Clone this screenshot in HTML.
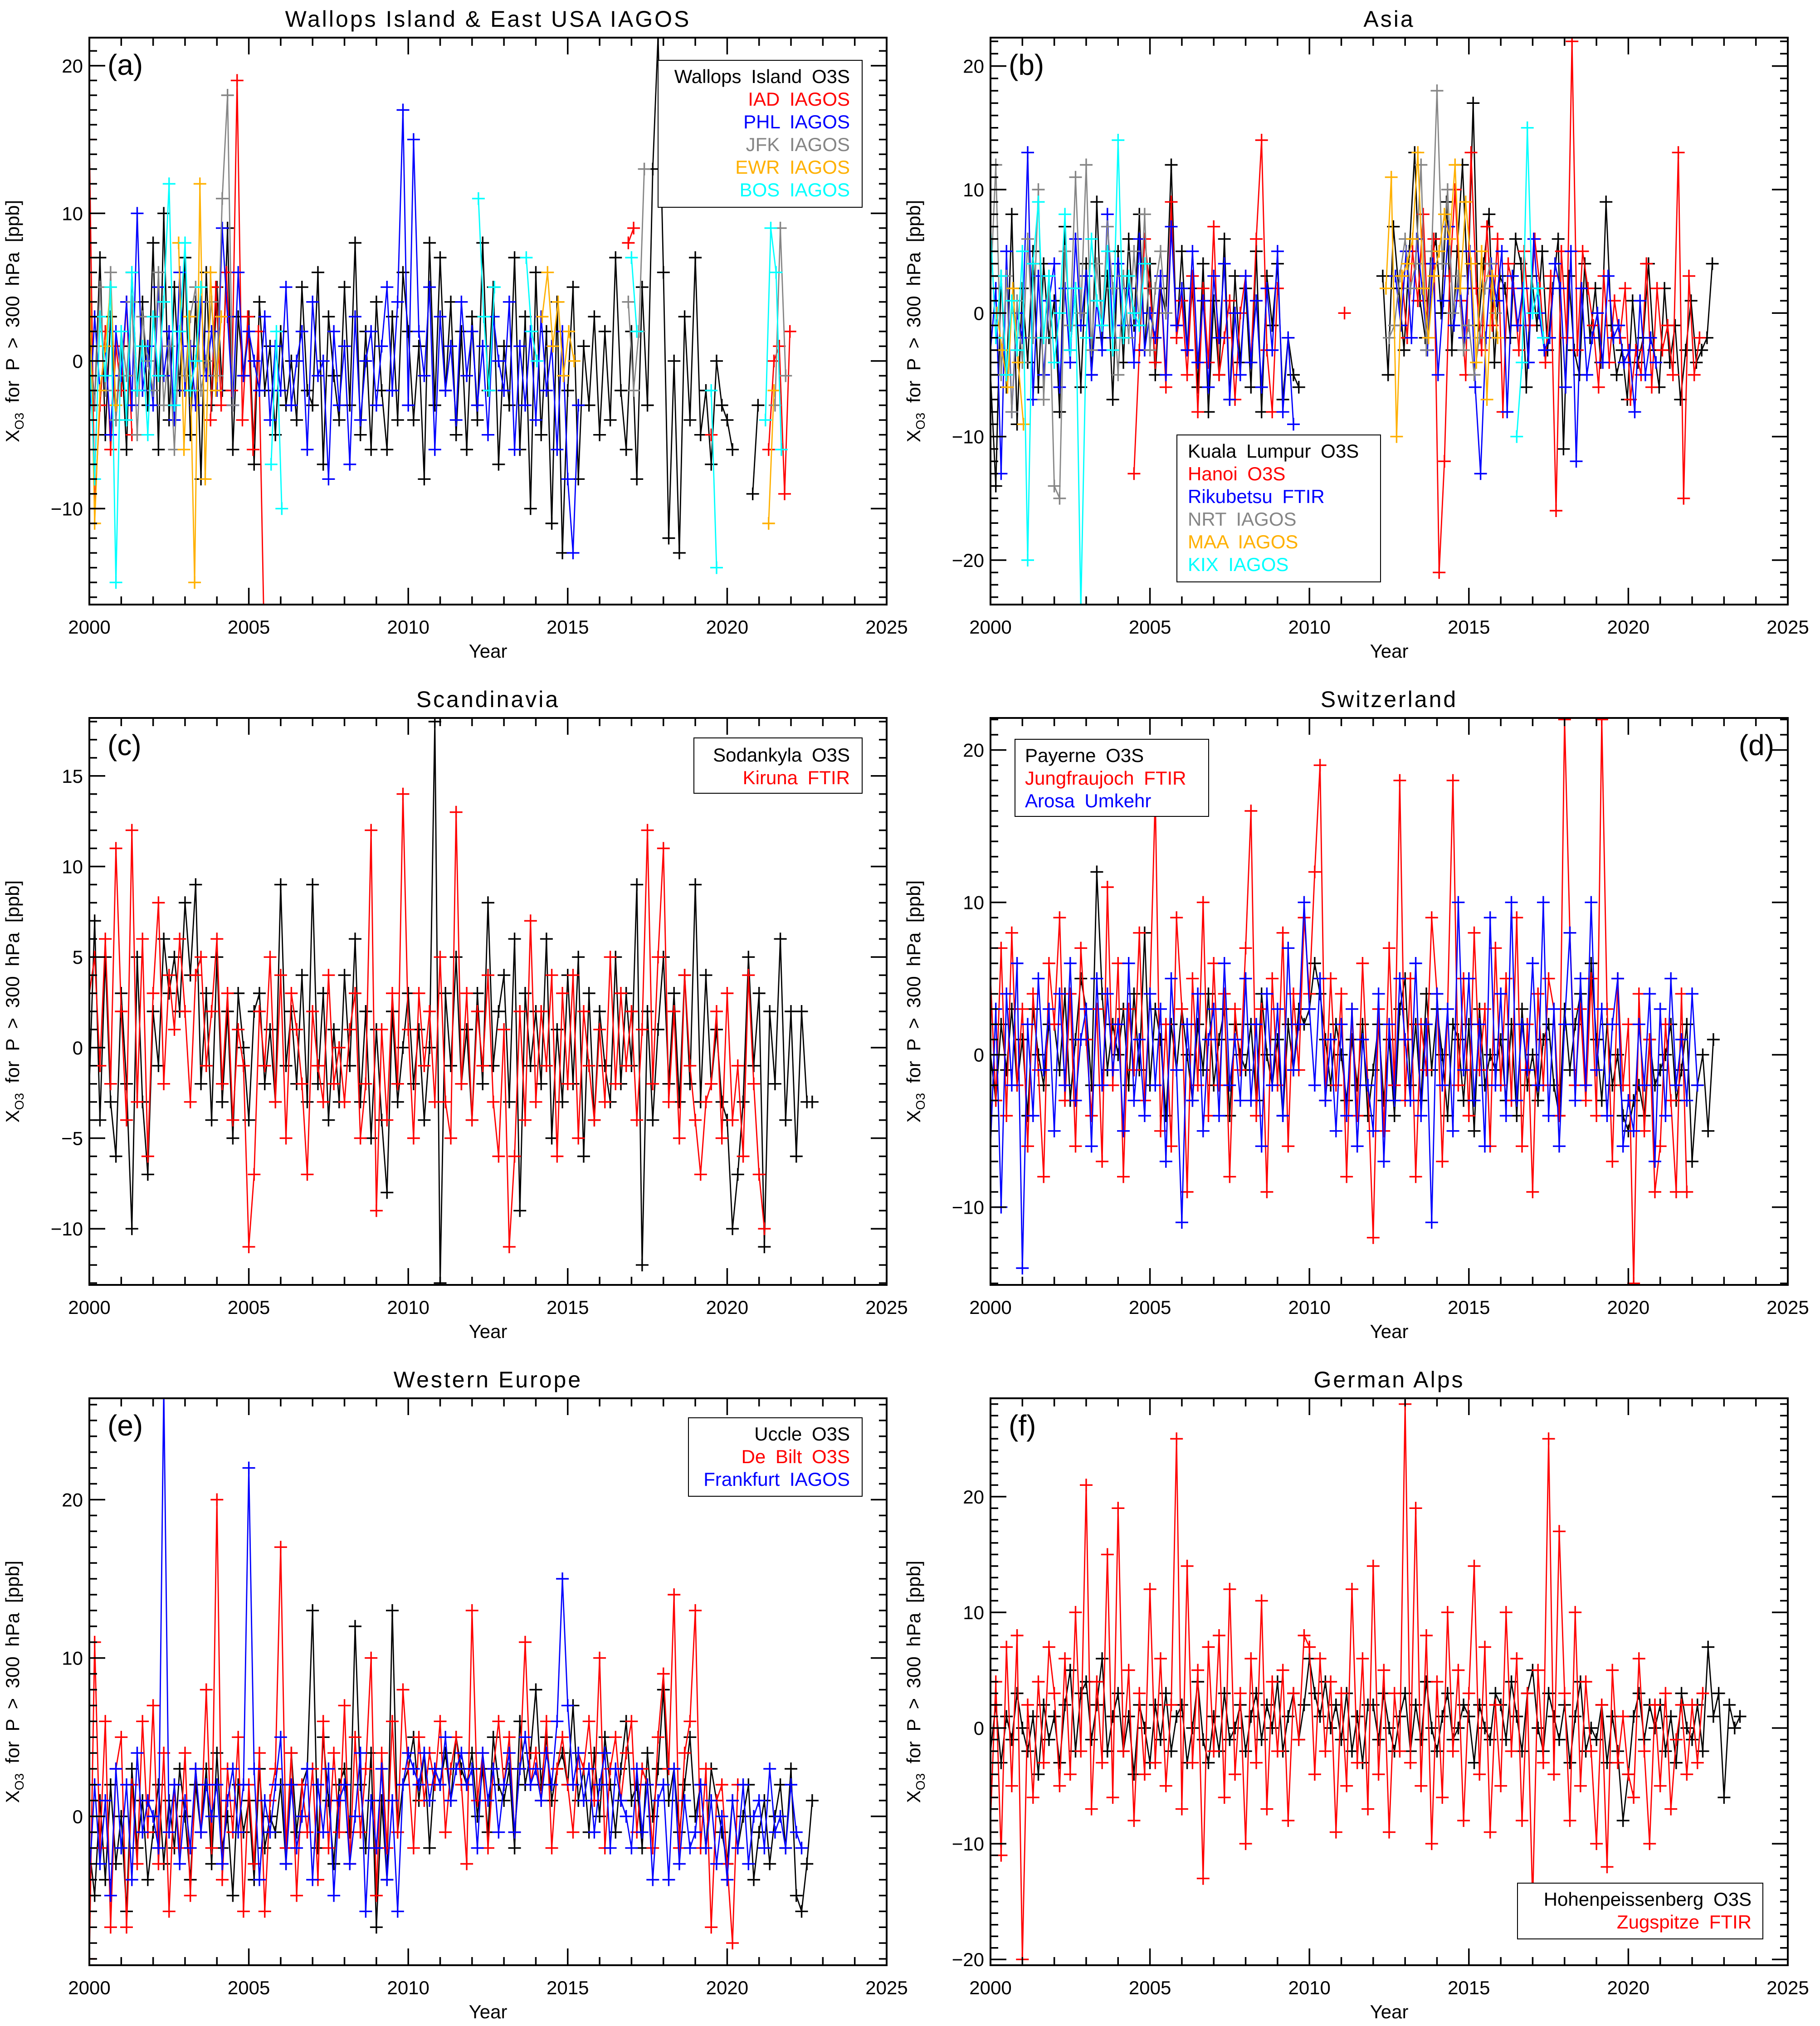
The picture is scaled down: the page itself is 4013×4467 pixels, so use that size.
<!DOCTYPE html>
<html><head><meta charset="utf-8">
<style>
html,body{margin:0;padding:0;background:#fff;}
svg{display:block;}
text{font-family:"Liberation Sans","DejaVu Sans",sans-serif;}
</style></head>
<body>
<svg id="fig" xmlns="http://www.w3.org/2000/svg" width="4013" height="4467" viewBox="0 0 4013 4467">
<rect x="0" y="0" width="4013" height="4467" fill="#fff"/>
</svg>
<script>
// ---- Data (series: list of segments [startYear, values at 2-month step]) ----
const dt = 1/6;
const xTickYears = [2000, 2005, 2010, 2015, 2020, 2025];
const yTicksA = [-10, 0, 10, 20];
const yTicksB = [-20, -10, 0, 10, 20];
const yTicksC = [-10, -5, 0, 5, 10, 15];
const yTicksD = [-10, 0, 10, 20];
const yTicksE = [0, 10, 20];
const yTicksF = [-20, -10, 0, 10, 20];
const yRangeA = [-16.5, 21.9];
const yRangeB = [-23.6, 22.3];
const yRangeC = [-13.1, 18.2];
const yRangeD = [-15.1, 22.1];
const yRangeE = [-9.4, 26.4];
const yRangeF = [-20.5, 28.5];

// Panel (a)
const aWallops = [[2000.0,[2,-3,7,-5,3,-4, 1,-6,6,-2,4,-3, 8,-6,10,-4,5,-2, 7,-5,4,-8,6,-3, 5,-2,9,-6,3,-1, 3,-7,4,-2,1,-5, 2,-3,0,-4,5,-2, -3,6,-7,3,-1,-4, 5,-3,8,-5,2,-6, 4,-2,-6,3,-4,6, 2,-4,1,-8,8,-3, 7,-2,4,-5,2,-6, 3,-4,8,-2,5,-7, 1,-3,7,-6,3,-10, 6,-5,2,-11,4,-13, -2,5,-8,1,-3,3, -5,2,-4,7,-2,-6, 2,-8,5,-3,13,22, 6,-12,0,-13,3,-4, 7,-5,-2,-7,0,-3, -4,-6]],[2020.8,[-9,-3]]];
const aIAD = [[2000.0,[15,-10,-3,2,-6,1,-2,4,-5]],[2003.8,[-4,5,-3,6,-2,19,-4,3,-6,2,-17]],[2016.9,[8,9]],[2019.5,[-5]],[2021.3,[-6,0,1,-9,2]]];
const aPHL = [[2000.0,[-4,3,-2,1,-5,2,-1,4,-3,10,-2,1, -3,5,-1,2,-4,6,-2,1,-3,4,-1,2, -2,9,3,-3,6,-1,2,0,-2,3,-4,1, -2,5,-3,0,2,-6,4,-1,0,-8,2,-3, 1,-7,3,-4,0,2,-3,1,5,-2,4,17, -3,15,2,-1,5,-6,3,-2,1,-4,4,-1, 2,-3,1,-5,3,0,-2,4,-6,1,-3,2, -4,3,-2,1,-6,2,-8,-13,-3]]];
const aJFK = [[2000.0,[1,-3,5,-2,6,-4,2,-1,4,-5,3,0,-2,6,-3,1,-6,2,-1,3,5,-2,0,4,-1,11,18,-3]],[2016.9,[4,-2,2,13]],[2021.5,[-3,9,-1]]];
const aEWR = [[2000.0,[7,-11,-2,1,5,-3]],[2002.8,[8,-6,3,-15,12,-8,6,-2,3]],[2014.2,[3,6,1,4,-1,2,0]],[2021.3,[-11,-2]]];
const aBOS = [[2000.0,[1,-8,3,-1,5,-15,2,-4,6,-2,1,-5,3,-1,4,12,-3,2,8,-2,0,5]],[2005.7,[-7,2,-10]],[2012.2,[11,3,-2,5]],[2013.7,[7,2,0]],[2017.0,[7,2]],[2019.5,[-2,-14]],[2021.2,[-4,9,6,-6]]];

// Panel (b)
const bKL = [[2000.0,[-5,-14,3,-6,8,-9,2,-4,5,-6,4,-2, 1,-8,7,-3,2,-6,4,-5,9,-2,3,-7, 5,-4,6,-1,8,-3,4,-5,2,0,12,-2, 5,-3,2,-6,4,-8,1,-5,6,-7,3,-4, 2,-6,5,-8,3,-1,4,-7,-2,-5,-6]],[2012.3,[3,-5,7,2,-3,5,13,1,-2,4,6,0, 9,-3,5,12,2,17,-1,4,8,-4,3,2, -2,6,4,-6,3,-1,5,-3,2,6,-11,3, -3,-5,4,-2,2,-4,9,-1,-5,-3,-7,1,-4,-2,4, -3,-6,2,-4,-1,-7,-3,1,-4,-3,-2,4]]];
const bHanoi = [[2004.5,[-13,-3,6,2,-4,3,-6,9,-2,1,-5,3,-8,2,-4,7,-5,-2,1,-7,0,3,-4,6,14,-3,-8,2]],[2011.1,[0]],[2012.9,[3,-2,5,1,8,-2,6,-21, -12,3,10,1,-5,13,2,-3,7,-1,6,-8, 4,2,-3,5,-1,6,2,-4,3, -16,5,-2,22, -3,5,2,-1,-6,3,-4,1,-2,2,-7,-3,-5,4,-6,2,-3,-1,-5, 13,-15,3,-5,-2]]];
const bRiku = [[2000.0,[-3,2,-13,5,-8,0,-2,13,-7,3,-5,1,4,-6,2,-4,6,-1,3,-5,1,-3,8,-2, 4,-1,2,-4,6,-3,0,-2,3,-5,7,-1, 2,-3,5,-4,1,-6,3,-2,4,-7,0,-5, 3,-4,1,-6,2,-3,5,-8,-2,-9]],[2012.7,[3,-1,5,-2,6,2,-3,4,-5,1,7,-1, 3,-2,5,-6,-13,-2,4,1,5,-8,3,-1,2,-4,6,0,-3,-2,4, 2,-6,5,-12,2,-5,-2,0,-4,3,-2,-1,-4, -3,-8,1,-5,-2,-4]]];
const bNRT = [[2000.0,[2,12,-5,3,-8,1,-4,6,-2,10,-7,3,-14,-15,5,-1,11,0,12,-3,4,-1,7,2,-5,3,-2,5,-1,8,-3,2,5,0]],[2012.5,[-2,-1,3,6,2,4,12,-3,5,18,4,10,0,3,-3,-1,-5,-2,2,4,0]]];
const bMAA = [[2000.2,[0,-3,-6,2,-4,-9]],[2012.4,[2,11,-10,3,4,6,13,2,-2,3,5,8,6,12,2,9,4,-4,5,-7,3,-2]]];
const bKIX = [[2000.0,[7,-2,3,-5,1,-3,5,-20,4,9,-2,3,-4,0,8,-3,2,-24,-2,6,1,-1,5,-3,14,-2,3,0,-1,4]],[2016.5,[-10,-4,15,0,2,-2]]];

// Panel (c)
const cSod = [[2000.0,[-2,7,-4,5,-3,-6, 3,-2,-10,5,-3,-7, 2,-1,6,3,5,2, 8,4,9,-2,3,-4, 5,-3,2,-5,3,0, -4,2,3,-2,1,-3, 9,-1,2,-2,4,-3, 9,-2,3,-4,1,-3, 4,-1,6,-3,2,-5, 1,-4,-8,2,-3,0, 3,-2,1,-4,0,18, -13,3,-1,5,-2,1, -4,3,-2,8,-1,2, 4,-3,6,-9,3,-1, 2,-2,6,-5,1,-3, 4,-2,5,-6,3,-4, 2,-1,-3,5,-2,3, -1,9,-12,2,-4,1, 5,-2,3,-3,4,-2, 9,-3,4,-2,1,-3, -4,-10,-7,-3,5,-1, 3,-11,2,-2,6,-4, 2,-6,2,-3,-3]]];
const cKir = [[2000.0,[3,5,-1,6,-2,11, 2,-4,12,-3,6,-6, 3,8,-2,4,1,6, 2,-3,4,5,-1,2, 6,-2,3,-4,1,-1, -11,-7,2,-1,5,-3, 4,-5,3,1,-2,-7, 2,-1,-3,4,-2,0, -3,1,3,-5,-2,12, -9,1,-4,3,-2,14, 1,-5,3,-1,2,-3, 5,-3,-5,13,-2,3, -4,2,-1,4,-3,-6, 1,-11,-6,2,-4,7, -3,2,-1,4,-6,3, -2,4,-5,2,-1,-4, 1,-3,5,-2,3,-1, 2,-4,1,12,-2,5, 11,-3,2,-5,4,-1, -4,-7,-3,-2,2,-5, 3,-4,-1,-6,4,-2, -7,-10]]];

// Panel (d)
const dPay = [[2000.0,[0,-3,2,-1,3,-2, 1,-4,3,0,-2,2, 2,-1,4,-3,1,5, 3,-2,12,4,-1,2, 0,3,-2,4,-1,8, -2,3,1,-4,2,-1, 3,0,-3,2,-1,4, -2,1,3,-4,2,0, -1,2,-3,4,0,-2, 1,-4,2,-1,3,2, 3,6,4,1,-2,2, 0,-3,1,-2,2,-4, -1,2,-3,1,-4,3, 5,-2,2,-3,4,-1, 3,0,-4,2,1,-3, 2,-5,3,-2,0,-1, 1,-3,2,-4,3,-2, 0,-3,1,2,-2,-4, 3,-1,2,4,-2,6, 1,-3,2,-2,0,-4, -5,-3,-2,-4,1,-2, -1,0,2,-3,-1,2, -7,-2,0,-5,1]]];
const dJung = [[2000.0,[5,-3,7,-4,8,-2, 3,-6,4,-1,-8,6, 2,9,-3,4,-6,7, 1,-4,3,-7,11,-2, 6,-8,3,-1,8,-3, 4,17,-5,2,-6,9, 3,-9,5,-2,10,-4, 6,-2,4,-8,3,-1, 7,16,-4,3,-9,5, -2,8,-6,4,-1,9, 4,12,19,-3,5,-2, 4,-8,3,-4,6,-2, -12,3,-5,7,-2,18, -3,5,-8,2,-1,9, 4,-7,3,18,-2,5, -4,8,-1,3,-6,7, -2,5,-3,9,-6,2, -9,4,-2,5,3,-4, 22,8,-2,3,-3,5, -4,22,3,-7,5,-2, 2,-15,4,-5,1,-9, -6,2,-3,-9,4,-9]]];
const dAro = [[2000.0,[-6,3,-10,4,-2,6, -14,2,-4,5,-1,3, -5,4,-2,6,-3,1, 3,-6,5,-2,4,-1, 2,-5,6,-3,1,-4, 4,-2,3,-7,5,-1, -11,2,-3,4,-5,1, 3,-4,6,-2,1,-3, 5,-3,2,-6,4,-2, 3,-4,7,-1,2,10, 3,-2,5,-3,1,-5, 2,-4,3,-6,1,-2, -5,4,-7,2,-3,5, 1,-3,6,-4,2,-11, 4,-2,3,-5,10,-1, 5,-3,2,-6,9,-2, 4,-4,10,-3,2,-1, 6,-2,10,-4,3,-6, 2,8,-3,5,-2,10, -1,3,-4,2,5,-6, -3,-5,2,-2,4,-7, 3,-4,5,-2,1,-3, 4,-2]]];

// Panel (e)
const eUcc = [[2000.0,[-2,-5,1,-4,2,-3, 0,-6,3,-2,1,-4, -1,2,-3,1,-2,3, 0,-4,2,-1,3,-3, 4,-2,0,-5,2,-1, 1,-4,3,-2,0,-1, 2,-3,4,-1,2,3, 13,-2,5,1,-3,2, 3,-1,12,2,-2,4, -7,1,-4,13,-1,2, 3,5,1,4,-2,3, 2,4,1,5,3,2, 4,0,3,-1,5,2, 1,3,-2,6,2,4, 8,2,5,1,3,4, 2,7,1,3,-1,4, 0,5,2,-1,3,6, 1,2,-2,4,0,3, 8,1,3,-1,2,5, 0,2,-2,3,1,-1, -3,1,-2,0,2,-4, -1,1,-3,0,2,-2, 3,-5,-6,-3,1]]];
const eDeB = [[2000.0,[-9,11,-2,6,-7,3, 5,-7,2,-3,6,-1, 7,-3,4,-6,2,-2, 4,-5,3,-1,8,-2, 20,-4,3,-1,5,-6, 2,-3,4,-6,1,3, 17,-2,4,-5,2,-1, 3,-4,6,-2,4,-1, 7,-3,5,-1,3,10, -5,4,-2,6,-1,8, 3,-2,5,1,4,2, 6,-1,3,5,2,-3, 13,1,4,-2,3,6, 2,5,-1,3,11,2, 4,1,6,-2,3,5, 2,-1,4,3,6,1, 10,-2,3,5,1,4, 6,-1,3,2,-2,5, 9,3,14,-2,4,6, 13,-2,3,-7,1,2, -3,-8,2]]];
const eFra = [[2000.0,[-4,2,-3,1,-5,3, -2,2,-4,4,-1,1, 0,-2,27,-1,2,-3, 1,-2,3,-1,2,0, 2,-3,1,3,-1,2, 22,3,-4,1,-1,2, 5,-3,2,-2,0,3, -4,2,-1,3,-5,1, 2,-3,0,4,-6,1, -2,3,-4,1,-6,2, 4,3,2,4,1,3, 2,5,1,3,4,2, 3,-2,4,1,3,-1, 2,4,-1,3,5,2, 3,1,4,2,6,15, 7,2,4,1,3,-1, 2,4,-2,3,1,0, -2,3,-1,2,-4,1, 2,-4,3,-3,1,-2, -1,2,-2,1,-3,0, -4,1,-2,2,-3,0, 1,-2,3,-1,0,-2, 2,-1,-2]]];

// Panel (f)
const fHoh = [[2000.0,[-2,2,-3,1,-1,3, 0,-2,1,-4,2,-1, 1,-3,2,5,-2,3, 4,-1,2,6,-2,1, 3,-2,1,-4,2,0, -3,2,-1,3,-2,1, 2,-3,0,4,-1,-3, 1,-2,3,-1,0,2, -2,1,3,-1,2,0, 4,-2,1,3,-1,2, 6,3,1,4,0,2, -1,3,-2,1,-3,2, 2,-1,3,0,-2,1, 3,-2,2,-1,4,0, -2,1,3,-1,0,2, 1,-3,2,0,-1,3, 2,-1,4,1,-2,3, 5,0,-2,3,1,-1, 2,-3,1,4,-2,0, -1,2,-3,1,-2,-8, -4,1,3,-1,2,0, 2,-2,1,-3,3,0, -1,2,-2,7,1,3, -6,2,0,1]]];
const fZug = [[2000.0,[-8,4,-11,7,-5,8, -20,2,-6,4,-3,7, 3,-5,6,-4,10,-2, 21,-7,4,-3,15,-6, 19,-2,5,-8,3,-4, 12,-3,6,-5,2,25, -7,14,-3,5,-13,7, -2,8,-6,12,-4,3, -10,6,-3,11,-7,4, -2,5,-8,3,-1,8, 7,-4,6,-2,4,-9, 3,-5,12,-3,6,-7, 14,-4,5,-9,3,-2, 28,-3,19,-5,8,-10, 4,-6,10,-2,5,-8, 3,14,-4,7,-9,2, -5,10,-2,6,-8,3, -15,5,-3,25,-4,17, 3,-8,10,-5,4,-2, -10,2,-12,5,-3,1, -4,-6,6,-2,-10,2, -5,3,-7,-1,2,-4, 2,-3,3]]];

// ---- Layout ----
const NS = "http://www.w3.org/2000/svg";
const svg = document.getElementById('fig');
const PW = 1758, PH = 1250;
const RED = "#ff0000", BLUE = "#0000ff", GRAY = "#858585", ORANGE = "#ffb000", CYAN = "#00ffff";

const panels = [
 {id:'a', x:197, y:83, title:'Wallops Island & East USA IAGOS', range:yRangeA, ticks:yTicksA,
  series:[['wallops-o3s',aWallops,'#000'],['iad-iagos',aIAD,RED],['phl-iagos',aPHL,BLUE],['jfk-iagos',aJFK,GRAY],['ewr-iagos',aEWR,ORANGE],['bos-iagos',aBOS,CYAN]],
  legend:{box:[1451,133,450,324], align:'end', tx:1874, ty:183, items:[['Wallops Island O3S','#000'],['IAD IAGOS',RED],['PHL IAGOS',BLUE],['JFK IAGOS',GRAY],['EWR IAGOS',ORANGE],['BOS IAGOS',CYAN]]}, labelRight:false},
 {id:'b', x:2184, y:83, title:'Asia', range:yRangeB, ticks:yTicksB,
  series:[['kuala-lumpur-o3s',bKL,'#000'],['hanoi-o3s',bHanoi,RED],['rikubetsu-ftir',bRiku,BLUE],['nrt-iagos',bNRT,GRAY],['maa-iagos',bMAA,ORANGE],['kix-iagos',bKIX,CYAN]],
  legend:{box:[2595,959,449,324], align:'start', tx:2619, ty:1009, items:[['Kuala Lumpur O3S','#000'],['Hanoi O3S',RED],['Rikubetsu FTIR',BLUE],['NRT IAGOS',GRAY],['MAA IAGOS',ORANGE],['KIX IAGOS',CYAN]]}, labelRight:false},
 {id:'c', x:197, y:1583, title:'Scandinavia', range:yRangeC, ticks:yTicksC,
  series:[['sodankyla-o3s',cSod,'#000'],['kiruna-ftir',cKir,RED]],
  legend:{box:[1530,1627,371,122], align:'end', tx:1874, ty:1679, items:[['Sodankyla O3S','#000'],['Kiruna FTIR',RED]]}, labelRight:false},
 {id:'d', x:2184, y:1583, title:'Switzerland', range:yRangeD, ticks:yTicksD,
  series:[['payerne-o3s',dPay,'#000'],['jungfraujoch-ftir',dJung,RED],['arosa-umkehr',dAro,BLUE]],
  legend:{box:[2238,1630,427,170], align:'start', tx:2260, ty:1680, items:[['Payerne O3S','#000'],['Jungfraujoch FTIR',RED],['Arosa Umkehr',BLUE]]}, labelRight:true},
 {id:'e', x:197, y:3083, title:'Western Europe', range:yRangeE, ticks:yTicksE,
  series:[['uccle-o3s',eUcc,'#000'],['de-bilt-o3s',eDeB,RED],['frankfurt-iagos',eFra,BLUE]],
  legend:{box:[1518,3126,383,173], align:'end', tx:1874, ty:3176, items:[['Uccle O3S','#000'],['De Bilt O3S',RED],['Frankfurt IAGOS',BLUE]]}, labelRight:false},
 {id:'f', x:2184, y:3083, title:'German Alps', range:yRangeF, ticks:yTicksF,
  series:[['hohenpeissenberg-o3s',fHoh,'#000'],['zugspitze-ftir',fZug,RED]],
  legend:{box:[3346,4152,541,123], align:'end', tx:3862, ty:4202, items:[['Hohenpeissenberg O3S','#000'],['Zugspitze FTIR',RED]]}, labelRight:false}
];

function el(tag, attrs, parent){
  const e = document.createElementNS(NS, tag);
  for (const k in attrs) e.setAttribute(k, attrs[k]);
  (parent||svg).appendChild(e);
  return e;
}

panels.forEach(p => {
  const g = el('g', {});
  
  
  const xs = yr => p.x + (yr - 2000) / 25 * PW;
  const ys = v => p.y + (p.range[1] - v) / (p.range[1] - p.range[0]) * PH;

  const clip = el('clipPath', {id:'clip-' + p.id}, g);
  el('rect', {x:p.x, y:p.y, width:PW, height:PH}, clip);

  const t = el('text', {x:p.x + PW/2, y:p.y - 24, 'font-size':50, 'text-anchor':'middle', fill:'#000', 'letter-spacing':'4'}, g);
  t.textContent = p.title;
  
  

  const dg = el('g', {'clip-path':'url(#clip-' + p.id + ')'}, g);
  p.series.forEach(s => {
    const sg = el('g', {}, dg);
    
    
    s[1].forEach(seg => {
      const t0 = seg[0], vals = seg[1];
      let d = '';
      vals.forEach((v, i) => {
        if (v === null) return;
        const X = xs(t0 + i*dt), Y = ys(v);
        d += (d ? 'L' : 'M') + X.toFixed(1) + ' ' + Y.toFixed(1);
      });
      const path = el('path', {d:d, fill:'none', stroke:s[2], 'stroke-width':2.8, 'stroke-linejoin':'round'}, sg);
      
      
      let md = '';
      vals.forEach((v, i) => {
        if (v === null) return;
        const X = xs(t0 + i*dt), Y = ys(v);
        md += 'M' + (X-14).toFixed(1) + ' ' + Y.toFixed(1) + 'h28M' + X.toFixed(1) + ' ' + (Y-14).toFixed(1) + 'v28';
      });
      const mk = el('path', {d:md, fill:'none', stroke:s[2], 'stroke-width':3.4}, sg);
      
      
    });
  });

  const fr = el('rect', {x:p.x, y:p.y, width:PW, height:PH, fill:'none', stroke:'#000', 'stroke-width':4}, g);
  
  

  let td = '';
  for (let yr = 2000; yr <= 2025; yr++) {
    const X = xs(yr), L = (yr % 5 === 0) ? 37 : 18;
    td += 'M' + X + ' ' + (p.y+PH) + 'v-' + L + 'M' + X + ' ' + p.y + 'v' + L;
  }
  const lo = Math.ceil(p.range[0]), hi = Math.floor(p.range[1]);
  for (let v = lo; v <= hi; v++) {
    const Y = ys(v), L = p.ticks.indexOf(v) >= 0 ? 35 : 17;
    td += 'M' + p.x + ' ' + Y + 'h' + L + 'M' + (p.x+PW) + ' ' + Y + 'h-' + L;
  }
  const tk = el('path', {d:td, stroke:'#000', 'stroke-width':3.5, fill:'none'}, g);
  
  

  xTickYears.forEach(yr => {
    const tl = el('text', {x:xs(yr), y:p.y + PH + 64, 'font-size':42, 'text-anchor':'middle', fill:'#000'}, g);
    tl.textContent = String(yr);
    
    
  });
  p.ticks.forEach(v => {
    const tl = el('text', {x:p.x - 14, y:ys(v) + 15, 'font-size':42, 'text-anchor':'end', fill:'#000'}, g);
    tl.textContent = v < 0 ? '\u2212' + Math.abs(v) : String(v);
    
    
  });

  const xt = el('text', {x:p.x + PW/2, y:p.y + PH + 117, 'font-size':42, 'text-anchor':'middle', fill:'#000'}, g);
  xt.textContent = 'Year';
  
  

  const yx = p.x - 155, yy = p.y + PH/2;
  const yt = el('text', {x:yx, y:yy, 'font-size':42, 'text-anchor':'middle', fill:'#000', transform:'rotate(-90 ' + yx + ' ' + yy + ')', 'word-spacing':'10'}, g);
  
  
  const s1 = el('tspan', {}, yt); s1.textContent = 'X';
  const s2 = el('tspan', {'font-size':28, dy:10}, yt); s2.textContent = 'O3';
  const s3 = el('tspan', {dy:-10}, yt); s3.textContent = ' for P > 300 hPa [ppb]';

  const pl = el('text', {x: p.labelRight ? p.x + PW - 30 : p.x + 40, y:p.y + 82, 'font-size':64, 'text-anchor': p.labelRight ? 'end' : 'start', fill:'#000'}, g);
  pl.textContent = '(' + p.id + ')';
  
  

  const lg = el('g', {}, g);
  
  
  const b = p.legend.box;
  el('rect', {x:b[0], y:b[1], width:b[2], height:b[3], fill:'#fff', stroke:'#000', 'stroke-width':2}, lg);
  p.legend.items.forEach((it, i) => {
    const lt = el('text', {x:p.legend.tx, y:p.legend.ty + i*50, 'font-size':42, 'text-anchor':p.legend.align, fill:it[1], 'word-spacing':'10'}, lg);
    lt.textContent = it[0];
    
    
  });
});
</script>
</body></html>
